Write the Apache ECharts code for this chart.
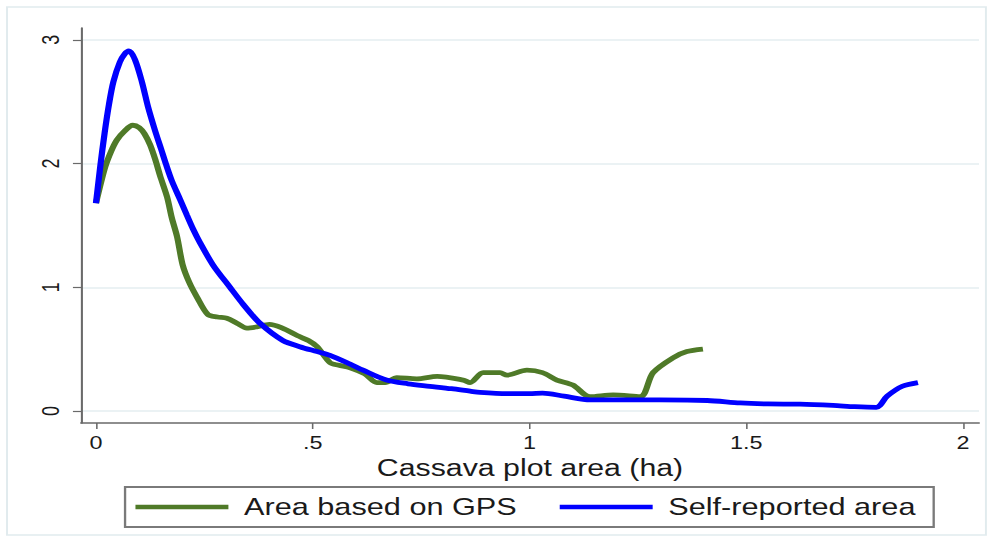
<!DOCTYPE html>
<html>
<head>
<meta charset="utf-8">
<script src="https://cdn.jsdelivr.net/npm/echarts@6/dist/echarts.min.js"></script>
<style>
  html, body { margin: 0; padding: 0; background: #ffffff; overflow: hidden; }
  #wrap { width: 992px; height: 542px; overflow: hidden; }
  #chart { width: 763px; height: 542px; transform: scaleX(1.3); transform-origin: 0 0; }
</style>
</head>
<body>
<div id="wrap"><div id="chart"></div></div>
<script>
// ---- data ----
const seriesNames = ['Area based on GPS', 'Self-reported area'];

const gpsX = [0, 0.021, 0.035, 0.048, 0.065, 0.085, 0.1, 0.112, 0.125, 0.137, 0.148, 0.164, 0.175, 0.187, 0.2, 0.215, 0.233, 0.258, 0.28, 0.302, 0.325, 0.348, 0.371, 0.4, 0.43, 0.464, 0.49, 0.51, 0.54, 0.56, 0.586, 0.62, 0.648, 0.667, 0.694, 0.74, 0.787, 0.847, 0.863, 0.893, 0.932, 0.948, 0.994, 1.03, 1.063, 1.1, 1.14, 1.193, 1.255, 1.285, 1.331, 1.363, 1.4];
const gpsY = [1.68, 1.97, 2.1, 2.19, 2.26, 2.31, 2.29, 2.24, 2.15, 2.03, 1.9, 1.73, 1.56, 1.41, 1.18, 1.04, 0.92, 0.78, 0.76, 0.75, 0.71, 0.67, 0.68, 0.7, 0.67, 0.61, 0.57, 0.52, 0.39, 0.37, 0.35, 0.3, 0.23, 0.23, 0.27, 0.26, 0.28, 0.25, 0.23, 0.31, 0.31, 0.29, 0.33, 0.31, 0.25, 0.21, 0.115, 0.13, 0.115, 0.31, 0.43, 0.48, 0.5];

const selfX = [0, 0.01, 0.02, 0.03, 0.04, 0.055, 0.067, 0.076, 0.09, 0.106, 0.12, 0.136, 0.15, 0.161, 0.175, 0.194, 0.21, 0.224, 0.24, 0.27, 0.309, 0.34, 0.378, 0.431, 0.47, 0.51, 0.54, 0.586, 0.616, 0.67, 0.72, 0.77, 0.82, 0.863, 0.886, 0.948, 1.0, 1.03, 1.08, 1.14, 1.2, 1.3, 1.41, 1.486, 1.55, 1.624, 1.7, 1.75, 1.8, 1.825, 1.86, 1.896];
const selfY = [1.68, 1.98, 2.25, 2.48, 2.66, 2.82, 2.89, 2.91, 2.84, 2.66, 2.46, 2.27, 2.12, 2.0, 1.86, 1.71, 1.58, 1.47, 1.36, 1.18, 1.0, 0.86, 0.71, 0.57, 0.52, 0.48, 0.45, 0.38, 0.33, 0.25, 0.22, 0.2, 0.18, 0.16, 0.15, 0.14, 0.14, 0.145, 0.12, 0.09, 0.09, 0.09, 0.085, 0.065, 0.057, 0.055, 0.045, 0.035, 0.03, 0.12, 0.2, 0.23];

const xTickValues = [0, 0.5, 1, 1.5, 2];
const xTickLabels = ['0', '.5', '1', '1.5', '2'];
const yTickValues = [0, 1, 2, 3];
const yTickLabels = ['0', '1', '2', '3'];
const xTitle = 'Cassava plot area (ha)';

// ---- chart ----
const pairs = (xs, ys) => xs.map((x, i) => [x, ys[i]]);
const chart = echarts.init(document.getElementById('chart'), null, { renderer: 'svg' });
const FONT = '"Liberation Sans", Arial, sans-serif';

chart.setOption({
  animation: false,
  backgroundColor: '#ffffff',
  graphic: [{
    type: 'rect',
    shape: { x: 5.4, y: 7, width: 753, height: 528 },
    style: { fill: 'none', stroke: '#e1ebee', lineWidth: 1.5 },
    silent: true
  }],
  grid: { left: 62.3, right: 9.9, top: 28, bottom: 119, containLabel: false },
  xAxis: {
    type: 'value',
    min: -0.0346, max: 2.0369,
    axisLine: { show: true, onZero: false, lineStyle: { color: '#6a6a6a', width: 1.6 } },
    axisTick: { show: true, length: 6, customValues: xTickValues, lineStyle: { color: '#6a6a6a', width: 1.2 } },
    axisLabel: {
      customValues: xTickValues, margin: 11,
      fontFamily: FONT, fontSize: 18, color: '#1a1a1a',
      formatter: v => xTickLabels[xTickValues.indexOf(+v)] ?? ''
    },
    splitLine: { show: false },
    name: xTitle, nameLocation: 'middle', nameGap: 30,
    nameTextStyle: { fontFamily: FONT, fontSize: 23.3, color: '#1a1a1a' }
  },
  yAxis: {
    type: 'value',
    min: -0.097, max: 3.096,
    axisLine: { show: true, onZero: false, lineStyle: { color: '#6a6a6a', width: 1.6 } },
    axisTick: { show: true, length: 6.2, customValues: yTickValues, lineStyle: { color: '#6a6a6a', width: 1.2 } },
    axisLabel: {
      customValues: yTickValues, margin: 14, rotate: 90,
      fontFamily: FONT, fontSize: 18, color: '#1a1a1a',
      formatter: v => yTickLabels[yTickValues.indexOf(+v)] ?? ''
    },
    splitLine: { show: true, lineStyle: { color: '#e4eef0', width: 1.5 } }
  },
  legend: {
    left: 96.2, top: 487,
    orient: 'horizontal',
    padding: [8, 14, 8, 8],
    borderColor: '#7a7a7a', borderWidth: 1.8,
    itemWidth: 71.5, itemHeight: 4.6, itemGap: 33,
    icon: 'rect',
    textStyle: { fontFamily: FONT, fontSize: 23.6, color: '#1a1a1a', lineHeight: 24, padding: [0, 0, 0, 7] },
    data: seriesNames
  },
  series: [
    {
      name: seriesNames[0], type: 'line', data: pairs(gpsX, gpsY),
      showSymbol: false, smooth: 0.3,
      color: '#4f7a28',
      lineStyle: { width: 4.8, color: '#4f7a28' }
    },
    {
      name: seriesNames[1], type: 'line', data: pairs(selfX, selfY),
      showSymbol: false, smooth: 0.3,
      color: '#0000ff',
      lineStyle: { width: 4.8, color: '#0000ff' }
    }
  ]
});
</script>
</body>
</html>
